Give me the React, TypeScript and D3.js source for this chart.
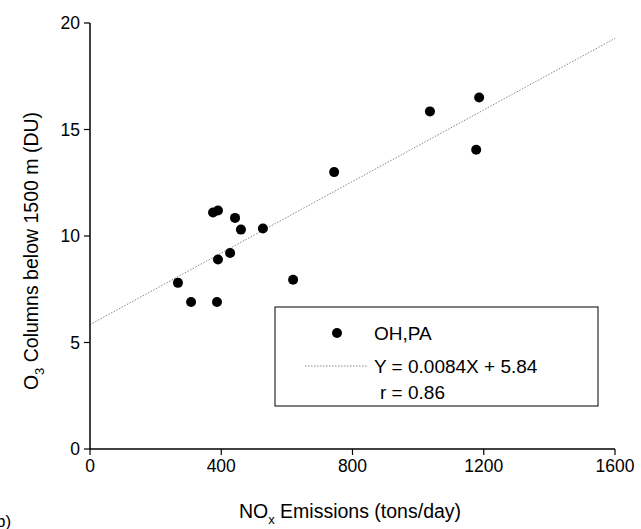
import * as d3 from "d3";

const noxValues = [268, 308, 387, 390, 427, 375, 390, 442, 460, 527, 619, 744, 1036, 1177, 1186];
const o3Values = [7.8, 6.9, 6.9, 8.9, 9.2, 11.1, 11.2, 10.85, 10.3, 10.35, 7.95, 13.0, 15.85, 14.05, 16.5];
const xTicks = [0, 400, 800, 1200, 1600];
const yTicks = [0, 5, 10, 15, 20];
const slope = 0.0084;
const intercept = 5.84;

export default function App() {
  const W = 641, H = 529;
  const left = 90, right = 615, top = 23, bottom = 449;
  const x = d3.scaleLinear().domain([0, 1600]).range([left, right]);
  const y = d3.scaleLinear().domain([0, 20]).range([bottom, top]);
  const font = "Liberation Sans, Arial, sans-serif";
  return (
    <svg width={W} height={H} style={{ position: "absolute", left: 0, top: 0, background: "#fff" }} fontFamily={font}>
      <line x1={x(0)} y1={y(intercept)} x2={x(1600)} y2={y(intercept + slope * 1600)} stroke="#888" strokeWidth={1} strokeDasharray="1.5,1.5" />
      <line x1={left} y1={top} x2={left} y2={bottom} stroke="#000" strokeWidth={1.5} />
      <line x1={left} y1={bottom} x2={right} y2={bottom} stroke="#000" strokeWidth={1.5} />
      {xTicks.map(t => (
        <g key={t}>
          <line x1={x(t)} x2={x(t)} y1={bottom} y2={bottom + 6} stroke="#000" strokeWidth={1.2} />
          <text x={x(t)} y={bottom + 23} textAnchor="middle" fontSize={17.5}>{t}</text>
        </g>
      ))}
      {yTicks.map(t => (
        <g key={t}>
          <line x1={left - 6} x2={left} y1={y(t)} y2={y(t)} stroke="#000" strokeWidth={1.2} />
          <text x={left - 10} y={y(t) + 6} textAnchor="end" fontSize={17.5}>{t}</text>
        </g>
      ))}
      {noxValues.map((v, i) => (
        <circle key={i} cx={x(v)} cy={y(o3Values[i])} r={5} fill="#000" />
      ))}
      <rect x={275} y={307} width={323} height={99} fill="#fff" stroke="#000" strokeWidth={1} />
      <circle cx={337} cy={333} r={5} fill="#000" />
      <text x={374} y={340} fontSize={19}>OH,PA</text>
      <line x1={305} x2={368} y1={366} y2={366} stroke="#888" strokeDasharray="1.5,1.5" />
      <text x={374} y={373} fontSize={19}>Y = 0.0084X + 5.84</text>
      <text x={380} y={399} fontSize={19}>r = 0.86</text>
      <text x={350} y={518} textAnchor="middle" fontSize={19.5}>
        NO<tspan dy={6} fontSize={13}>x</tspan><tspan dy={-6}> Emissions (tons/day)</tspan>
      </text>
      <text transform={`translate(38,${(top + bottom) / 2 + 15}) rotate(-90)`} textAnchor="middle" fontSize={19.5}>
        O<tspan dy={6} fontSize={13}>3</tspan><tspan dy={-6}> Columns below 1500 m (DU)</tspan>
      </text>
      <text x={-4} y={527} fontSize={17}>b)</text>
    </svg>
  );
}
